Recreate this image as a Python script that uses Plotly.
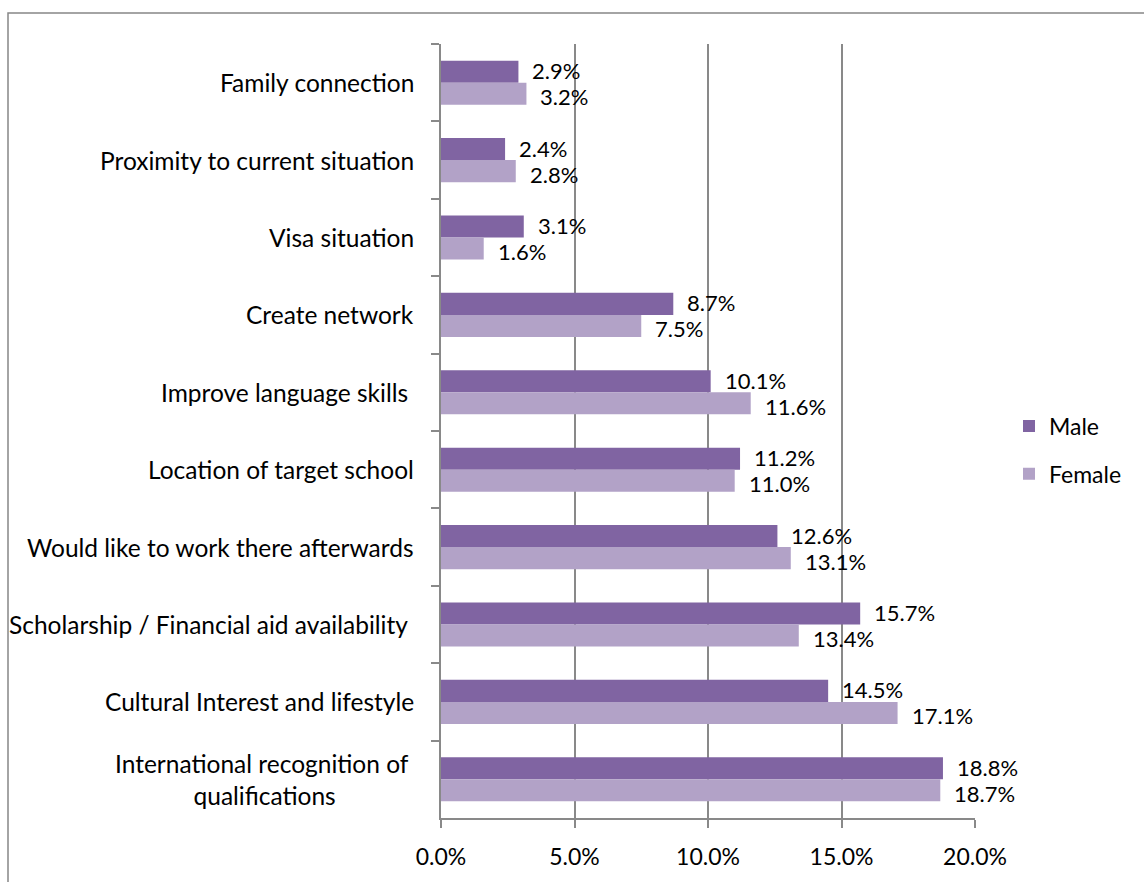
import plotly.graph_objects as go

# Reasons for choosing a study destination, by gender (share of responses, %)
categories = [
    "Family connection",
    "Proximity to current situation",
    "Visa situation",
    "Create network",
    "Improve language skills\u00a0",
    "Location of target school",
    "Would like to work there afterwards",
    "Scholarship / Financial aid availability\u00a0",
    "Cultural Interest and lifestyle",
    "International recognition of\u00a0<br>qualifications",
]
male = [2.9, 2.4, 3.1, 8.7, 10.1, 11.2, 12.6, 15.7, 14.5, 18.8]
female = [3.2, 2.8, 1.6, 7.5, 11.6, 11.0, 13.1, 13.4, 17.1, 18.7]
x_ticks = [0, 5, 10, 15, 20]
x_tick_labels = ["0.0%", "5.0%", "10.0%", "15.0%", "20.0%"]

MALE_COLOR = "#8064A2"
FEMALE_COLOR = "#B2A2C7"
GRID = "#898989"
FONT = "Lato"
LABEL_SIZE = 22
TICK_SIZE = 23
CAT_SIZE = 24.5

W, H = 1144, 882
L, R, T, B = 441, 169, 44, 64
pw, ph = W - L - R, H - T - B

fig = go.Figure()
fig.add_trace(go.Bar(
    y=categories, x=male, name="Male", orientation="h",
    marker=dict(color=MALE_COLOR, line=dict(width=0)),
    legendgroup="m",
))
fig.add_trace(go.Bar(
    y=categories, x=female, name="Female", orientation="h",
    marker=dict(color=FEMALE_COLOR, line=dict(width=0)),
    legendgroup="f",
))

annotations = []
# value labels just past each bar end
for cat, m, f in zip(categories, male, female):
    annotations.append(dict(
        x=m, y=cat, xref="x", yref="y", text=f"{m:.1f}%", showarrow=False,
        xanchor="left", yanchor="middle", xshift=12, yshift=12,
        font=dict(family=FONT, size=LABEL_SIZE, color="#000000"),
    ))
    annotations.append(dict(
        x=f, y=cat, xref="x", yref="y", text=f"{f:.1f}%", showarrow=False,
        xanchor="left", yanchor="middle", xshift=12, yshift=-14,
        font=dict(family=FONT, size=LABEL_SIZE, color="#000000"),
    ))
# category labels, centred when wrapped
for cat in categories:
    annotations.append(dict(
        x=0, y=cat, xref="paper", yref="y", text=cat, showarrow=False,
        xanchor="right", yanchor="middle", xshift=-25, align="center",
        font=dict(family=FONT, size=CAT_SIZE, color="#000000"),
    ))

fig.update_layout(
    width=W, height=H,
    margin=dict(l=L, r=R, t=T, b=B, pad=0),
    paper_bgcolor="white", plot_bgcolor="white",
    barmode="group", bargap=0.43, bargroupgap=0,
    font=dict(family=FONT, size=TICK_SIZE, color="#000000"),
    showlegend=True,
    legend=dict(
        x=(1009 - L) / pw, y=(818 - 450) / ph, xanchor="left", yanchor="middle",
        traceorder="grouped", tracegroupgap=15, itemwidth=30,
        font=dict(family=FONT, size=TICK_SIZE, color="#000000"),
        bgcolor="rgba(0,0,0,0)",
    ),
    annotations=annotations,
    shapes=[dict(
        type="rect", xref="paper", yref="paper",
        x0=(8 - L) / pw, x1=(W + 10 - L) / pw,
        y0=(818 - (H + 10)) / ph, y1=(818 - 13) / ph,
        line=dict(color="#878787", width=1.5), fillcolor="rgba(0,0,0,0)",
        layer="below",
    )],
)

fig.update_xaxes(
    range=[0, 20], tickvals=x_ticks, ticktext=x_tick_labels,
    showgrid=True, gridcolor=GRID, gridwidth=1.5, zeroline=False,
    showline=True, linecolor=GRID, linewidth=1.5,
    ticks="outside", ticklen=8, tickcolor=GRID, tickwidth=1.5,
    ticklabelstandoff=10,
    tickfont=dict(family=FONT, size=TICK_SIZE, color="#000000"),
)
fig.update_yaxes(
    autorange="reversed", type="category",
    showgrid=False, zeroline=False, showticklabels=False,
    showline=True, linecolor=GRID, linewidth=1.5,
    ticks="outside", ticklen=8, tickcolor=GRID, tickwidth=1.5,
    tickson="boundaries",
)

fig.write_html("out.html")
